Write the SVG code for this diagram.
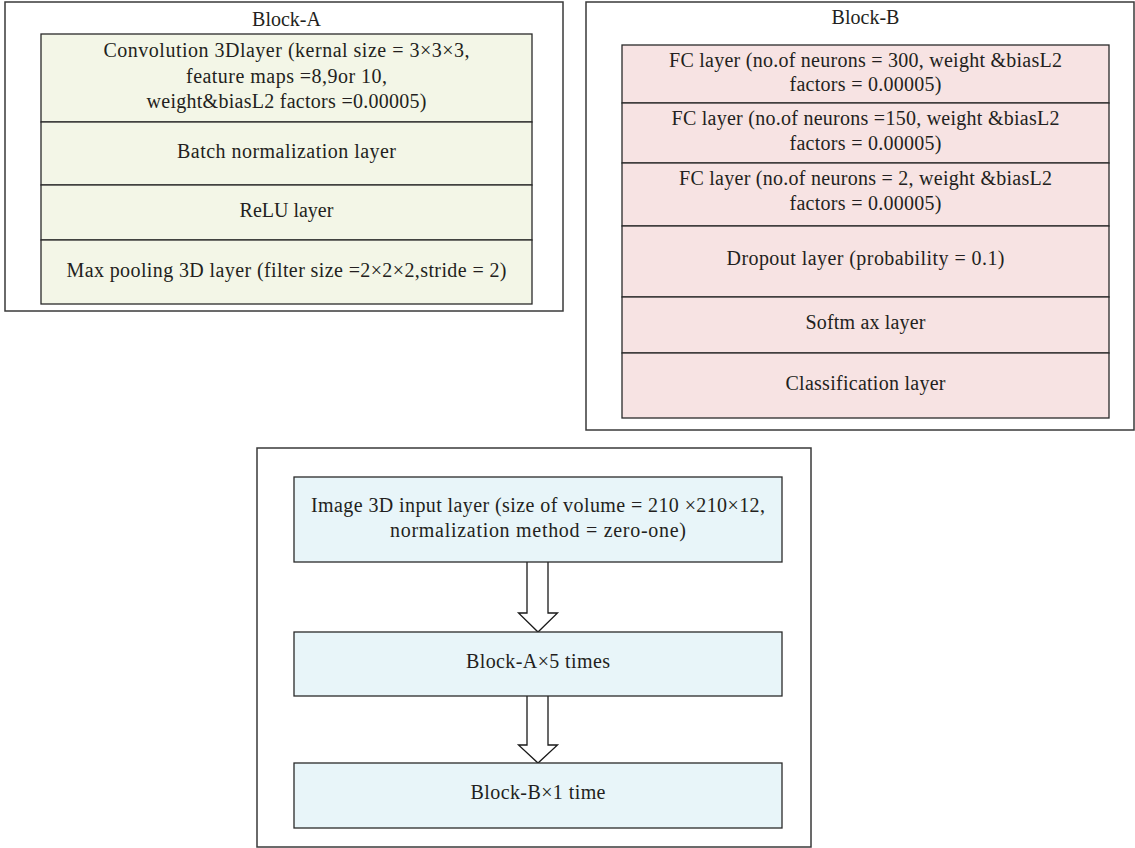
<svg xmlns="http://www.w3.org/2000/svg" width="1135" height="848" viewBox="0 0 1135 848">
<style>
text{font-family:"Liberation Serif","Times New Roman",serif;font-size:20px;fill:#231f20;text-anchor:middle}
.outer{fill:#fff;stroke:#3a3a3a;stroke-width:1.5}
.ga{fill:#f3f6e7;stroke:#2a2a2a;stroke-width:1.3}
.pb{fill:#f7e3e3;stroke:#2a2a2a;stroke-width:1.3}
.bl{fill:#e8f5f9;stroke:#2a2a2a;stroke-width:1.3}
.arr{fill:#fff;stroke:#1a1a1a;stroke-width:1.3;stroke-linejoin:miter}
</style>
<rect width="1135" height="848" fill="#fff"/>

<g id="block-a">
<rect class="outer" x="5" y="2" width="558" height="309"/>
<text x="286.5" y="26">Block-A</text>
<g id="a-conv">
<rect class="ga" x="41" y="34" width="491" height="88"/>
<text x="286.5" y="57" textLength="366" lengthAdjust="spacing">Convolution 3Dlayer (kernal size = 3×3×3,</text>
<text x="286.5" y="83" textLength="201" lengthAdjust="spacing">feature maps =8,9or 10,</text>
<text x="286.5" y="108" textLength="280" lengthAdjust="spacing">weight&amp;biasL2 factors =0.00005)</text>
</g>
<g id="a-batch">
<rect class="ga" x="41" y="122" width="491" height="63"/>
<text x="286.5" y="158" textLength="219" lengthAdjust="spacing">Batch normalization layer</text>
</g>
<g id="a-relu">
<rect class="ga" x="41" y="185" width="491" height="55"/>
<text x="286.5" y="217">ReLU layer</text>
</g>
<g id="a-pool">
<rect class="ga" x="41" y="240" width="491" height="64"/>
<text x="286.5" y="277" textLength="440" lengthAdjust="spacing">Max pooling 3D layer (filter size =2×2×2,stride = 2)</text>
</g>
</g>

<g id="block-b">
<rect class="outer" x="586" y="2" width="548" height="428"/>
<text x="865.5" y="24">Block-B</text>
<g id="b-fc1">
<rect class="pb" x="622" y="45" width="487" height="58"/>
<text x="865.5" y="67" textLength="393" lengthAdjust="spacing">FC layer (no.of neurons = 300, weight &amp;biasL2</text>
<text x="865.5" y="91" textLength="152" lengthAdjust="spacing">factors = 0.00005)</text>
</g>
<g id="b-fc2">
<rect class="pb" x="622" y="103" width="487" height="60"/>
<text x="865.5" y="125" textLength="388" lengthAdjust="spacing">FC layer (no.of neurons =150, weight &amp;biasL2</text>
<text x="865.5" y="150" textLength="152" lengthAdjust="spacing">factors = 0.00005)</text>
</g>
<g id="b-fc3">
<rect class="pb" x="622" y="163" width="487" height="63"/>
<text x="865.5" y="185" textLength="373" lengthAdjust="spacing">FC layer (no.of neurons = 2, weight &amp;biasL2</text>
<text x="865.5" y="210" textLength="152" lengthAdjust="spacing">factors = 0.00005)</text>
</g>
<g id="b-dropout">
<rect class="pb" x="622" y="226" width="487" height="71"/>
<text x="865.5" y="265" textLength="278" lengthAdjust="spacing">Dropout layer (probability = 0.1)</text>
</g>
<g id="b-softmax">
<rect class="pb" x="622" y="297" width="487" height="56"/>
<text x="865.5" y="329" textLength="120" lengthAdjust="spacing">Softm ax layer</text>
</g>
<g id="b-class">
<rect class="pb" x="622" y="353" width="487" height="65"/>
<text x="865.5" y="390" textLength="160" lengthAdjust="spacing">Classification layer</text>
</g>
</g>

<g id="pipeline">
<rect class="outer" x="257" y="448" width="554" height="399"/>
</g>

<g id="connectors">
<path class="arr" d="M527,562 V613 H518.5 L538,632 L557.5,613 H548 V562"/>
<path class="arr" d="M527,696 V745 H518.5 L538,763 L557.5,745 H548 V696"/>
</g>

<g id="input">
<rect class="bl" x="294" y="477" width="488" height="85"/>
<text x="538" y="512" textLength="454" lengthAdjust="spacing">Image 3D input layer (size of volume = 210 ×210×12,</text>
<text x="538" y="537" textLength="296" lengthAdjust="spacing">normalization method = zero-one)</text>
</g>
<g id="block-a-x5">
<rect class="bl" x="294" y="632" width="488" height="64"/>
<text x="538" y="668" textLength="144" lengthAdjust="spacing">Block-A×5 times</text>
</g>
<g id="block-b-x1">
<rect class="bl" x="294" y="763" width="488" height="65"/>
<text x="538" y="799" textLength="135" lengthAdjust="spacing">Block-B×1 time</text>
</g>
</svg>
